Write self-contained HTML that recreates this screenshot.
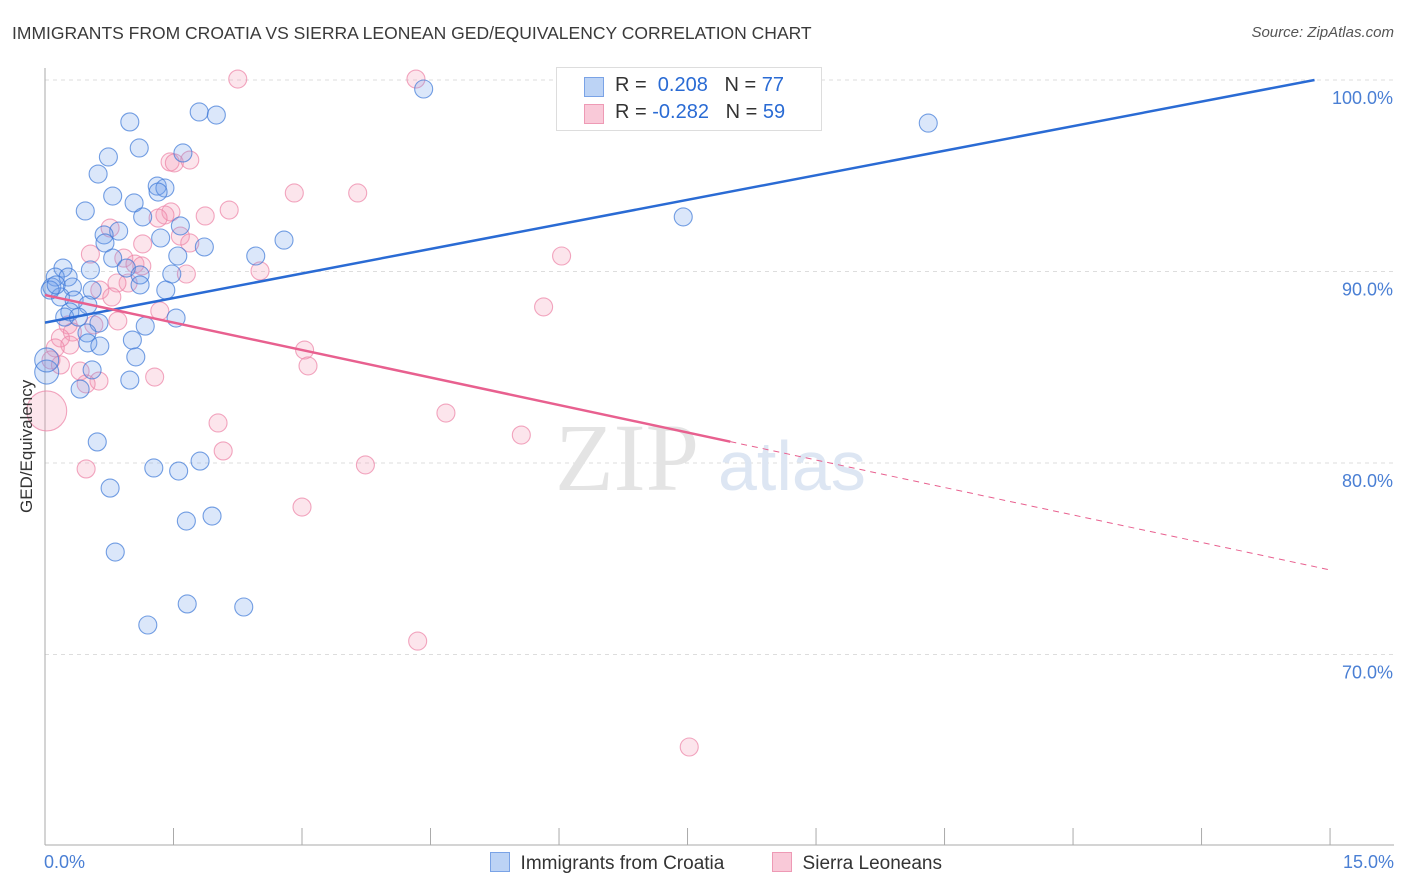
<!DOCTYPE html>
<html><head><meta charset="utf-8">
<style>
body{margin:0;background:#fff;font-family:"Liberation Sans",sans-serif;}
#wrap{position:relative;width:1406px;height:892px;}
.t{position:absolute;white-space:nowrap;}
</style></head>
<body>
<div id="wrap">
<div class="t" style="left:12px;top:23px;font-size:17.5px;color:#3a3a3a;">IMMIGRANTS FROM CROATIA VS SIERRA LEONEAN GED/EQUIVALENCY CORRELATION CHART</div>
<div class="t" style="right:12px;top:24px;font-size:15px;color:#555;font-style:italic;">Source: ZipAtlas.com</div>
<svg id="svg" width="1406" height="892" style="position:absolute;left:0;top:0"></svg>
</div>
<script>
const blueX=[4.42,1.80,2.00,0.99,10.31,1.10,1.61,0.74,0.62,1.31,1.40,1.32,0.79,1.04,0.47,1.14,7.45,1.58,1.35,0.86,0.69,0.70,1.86,2.79,2.46,1.55,0.79,0.95,1.11,0.53,0.21,0.12,0.27,0.08,0.32,0.55,1.48,1.41,1.11,0.18,0.34,0.50,0.29,0.23,0.39,0.63,1.17,1.53,0.49,0.50,0.64,1.02,1.06,0.55,0.99,0.41,0.02,0.02,0.61,1.27,1.56,1.81,0.76,1.65,1.95,0.82,1.66,2.32,1.20,0.06,0.13];
const blueY=[99.53,98.33,98.17,97.81,97.75,96.45,96.19,95.98,95.09,94.46,94.36,94.15,93.94,93.58,93.16,92.85,92.85,92.38,91.75,92.11,91.91,91.49,91.28,91.64,90.81,90.81,90.70,90.18,89.82,90.08,90.18,89.71,89.71,89.19,89.19,89.03,89.87,89.03,89.30,88.67,88.51,88.25,87.89,87.62,87.62,87.31,87.15,87.57,86.79,86.27,86.11,86.42,85.54,84.86,84.33,83.86,84.75,85.38,81.10,79.74,79.58,80.10,78.69,76.97,77.23,75.35,72.64,72.48,71.54,89.03,89.30];
const pinkX=[2.25,4.33,1.46,1.51,2.91,3.65,1.47,2.15,1.87,1.40,1.32,0.76,1.58,1.69,1.14,0.53,0.92,6.03,1.05,2.51,1.13,1.65,0.97,0.84,0.64,0.78,5.82,1.34,0.85,0.27,0.57,0.32,0.18,0.29,0.12,3.03,0.07,3.07,0.41,1.28,0.63,0.48,0.02,4.68,2.02,5.56,2.08,3.74,0.48,3.00,4.35,7.52,0.18,1.69];
const pinkY=[100.05,100.05,95.72,95.67,94.10,94.10,93.11,93.21,92.90,92.95,92.79,92.27,91.85,91.49,91.44,90.91,90.70,90.81,90.39,90.03,90.29,89.87,89.40,89.40,89.03,88.67,88.15,87.94,87.42,87.21,87.21,86.84,86.53,86.16,86.01,85.90,85.38,85.07,84.80,84.49,84.28,84.13,82.72,82.61,82.09,81.46,80.63,79.90,79.69,77.70,70.70,65.17,85.12,95.82];
const yTicks=[100,90,80,70];
const yTickLabels=["100.0%","90.0%","80.0%","70.0%"];
const blueLine=[87.33,0.855];
const pinkLine=[88.77,-0.957];

const X=v=>45+v*85.67, Y=v=>80+(100-v)*19.15;
const svg=document.getElementById('svg');
const NS='http://www.w3.org/2000/svg';
function mk(tag,attrs,parent){const e=document.createElementNS(NS,tag);for(const k in attrs)e.setAttribute(k,attrs[k]);(parent||svg).appendChild(e);return e;}
yTicks.forEach((t,i)=>{
 const g=mk('line',{x1:45,x2:1394,y1:Y(t),y2:Y(t),stroke:'#ddd','stroke-dasharray':'4,4'});
 
 
 const tx=mk('text',{x:1393,y:Y(t)+24,'text-anchor':'end','font-size':18,fill:'#4a7fd4','font-family':'Liberation Sans'});
 tx.textContent=yTickLabels[i];
 
 
});
const ax=mk('line',{x1:45,x2:45,y1:68,y2:845,stroke:'#aaa'});


const bx=mk('line',{x1:45,x2:1394,y1:845,y2:845,stroke:'#aaa'});


for(let i=0;i<=10;i++){const tk=mk('line',{x1:X(i*1.5),x2:X(i*1.5),y1:828,y2:845,stroke:'#aaa'});
 
 }
const wm=mk('text',{x:555,y:490,'font-size':96,fill:'#e4e4e4','font-family':'Liberation Serif'});wm.textContent='ZIP';


const wm2=mk('text',{x:718,y:490,'font-size':70,fill:'#dde6f3','font-family':'Liberation Sans'});wm2.textContent='atlas';


function pts(xs,ys,fill,stroke,name){xs.forEach((x,i)=>{
 let r=9; if(x<0.05) r= name==='pink-point'&&ys[i]<83?20:12;
 const c=mk('circle',{cx:X(x),cy:Y(ys[i]),r:r,fill:fill,stroke:stroke,'stroke-width':1.1});
 
 
});}
pts(pinkX,pinkY,'rgba(244,150,180,0.25)','rgba(236,130,165,0.7)','pink-point');
pts(blueX,blueY,'rgba(110,160,235,0.25)','rgba(60,120,215,0.7)','blue-point');
const bEnd=(100-blueLine[0])/blueLine[1];
const bl=mk('line',{x1:X(0),y1:Y(blueLine[0]),x2:X(bEnd),y2:Y(100),stroke:'#2a6bd4','stroke-width':2.5});


const pl=mk('line',{x1:X(0),y1:Y(pinkLine[0]),x2:X(8),y2:Y(pinkLine[0]+pinkLine[1]*8),stroke:'#e8608f','stroke-width':2.5});


const pd=mk('line',{x1:X(8),y1:Y(pinkLine[0]+pinkLine[1]*8),x2:X(15),y2:Y(pinkLine[0]+pinkLine[1]*15),stroke:'#e8608f','stroke-width':1,'stroke-dasharray':'6,5'});


</script>
<div class="t" style="left:-28px;top:448px;font-size:17px;color:#333;transform:rotate(-90deg);transform-origin:center;width:110px;text-align:center;">GED/Equivalency</div>
<div class="t" style="left:44px;top:852px;font-size:18px;color:#4a7fd4;">0.0%</div>
<div class="t" style="right:12px;top:852px;font-size:18px;color:#4a7fd4;">15.0%</div>
<div style="position:absolute;left:556px;top:67px;width:264px;height:62px;border:1px solid #ddd;background:#fff;font-size:20px;">
 <div style="position:absolute;left:27px;top:9px;width:18px;height:18px;background:#bcd3f5;border:1px solid #7aa3e6;"></div>
 <div class="t" style="left:58px;top:6px;color:#333;">R = <span style="color:#2a6bd4">&nbsp;0.208</span>&nbsp;&nbsp;&nbsp;N = <span style="color:#2a6bd4">77</span></div>
 <div style="position:absolute;left:27px;top:36px;width:18px;height:18px;background:#f9c9d8;border:1px solid #ee9ab5;"></div>
 <div class="t" style="left:58px;top:33px;color:#333;">R = <span style="color:#2a6bd4">-0.282</span>&nbsp;&nbsp;&nbsp;N = <span style="color:#2a6bd4">59</span></div>
</div>
<div style="position:absolute;left:490px;top:852px;font-size:19px;color:#333;">
 <div style="position:absolute;left:0;top:0;width:270px;"><span style="display:inline-block;width:18px;height:18px;background:#bcd3f5;border:1px solid #7aa3e6;vertical-align:-3px;"></span>&nbsp; Immigrants from Croatia</div>
 <div style="position:absolute;left:282px;top:0;width:200px;"><span style="display:inline-block;width:18px;height:18px;background:#f9c9d8;border:1px solid #ee9ab5;vertical-align:-3px;"></span>&nbsp; Sierra Leoneans</div>
</div>
</body></html>
